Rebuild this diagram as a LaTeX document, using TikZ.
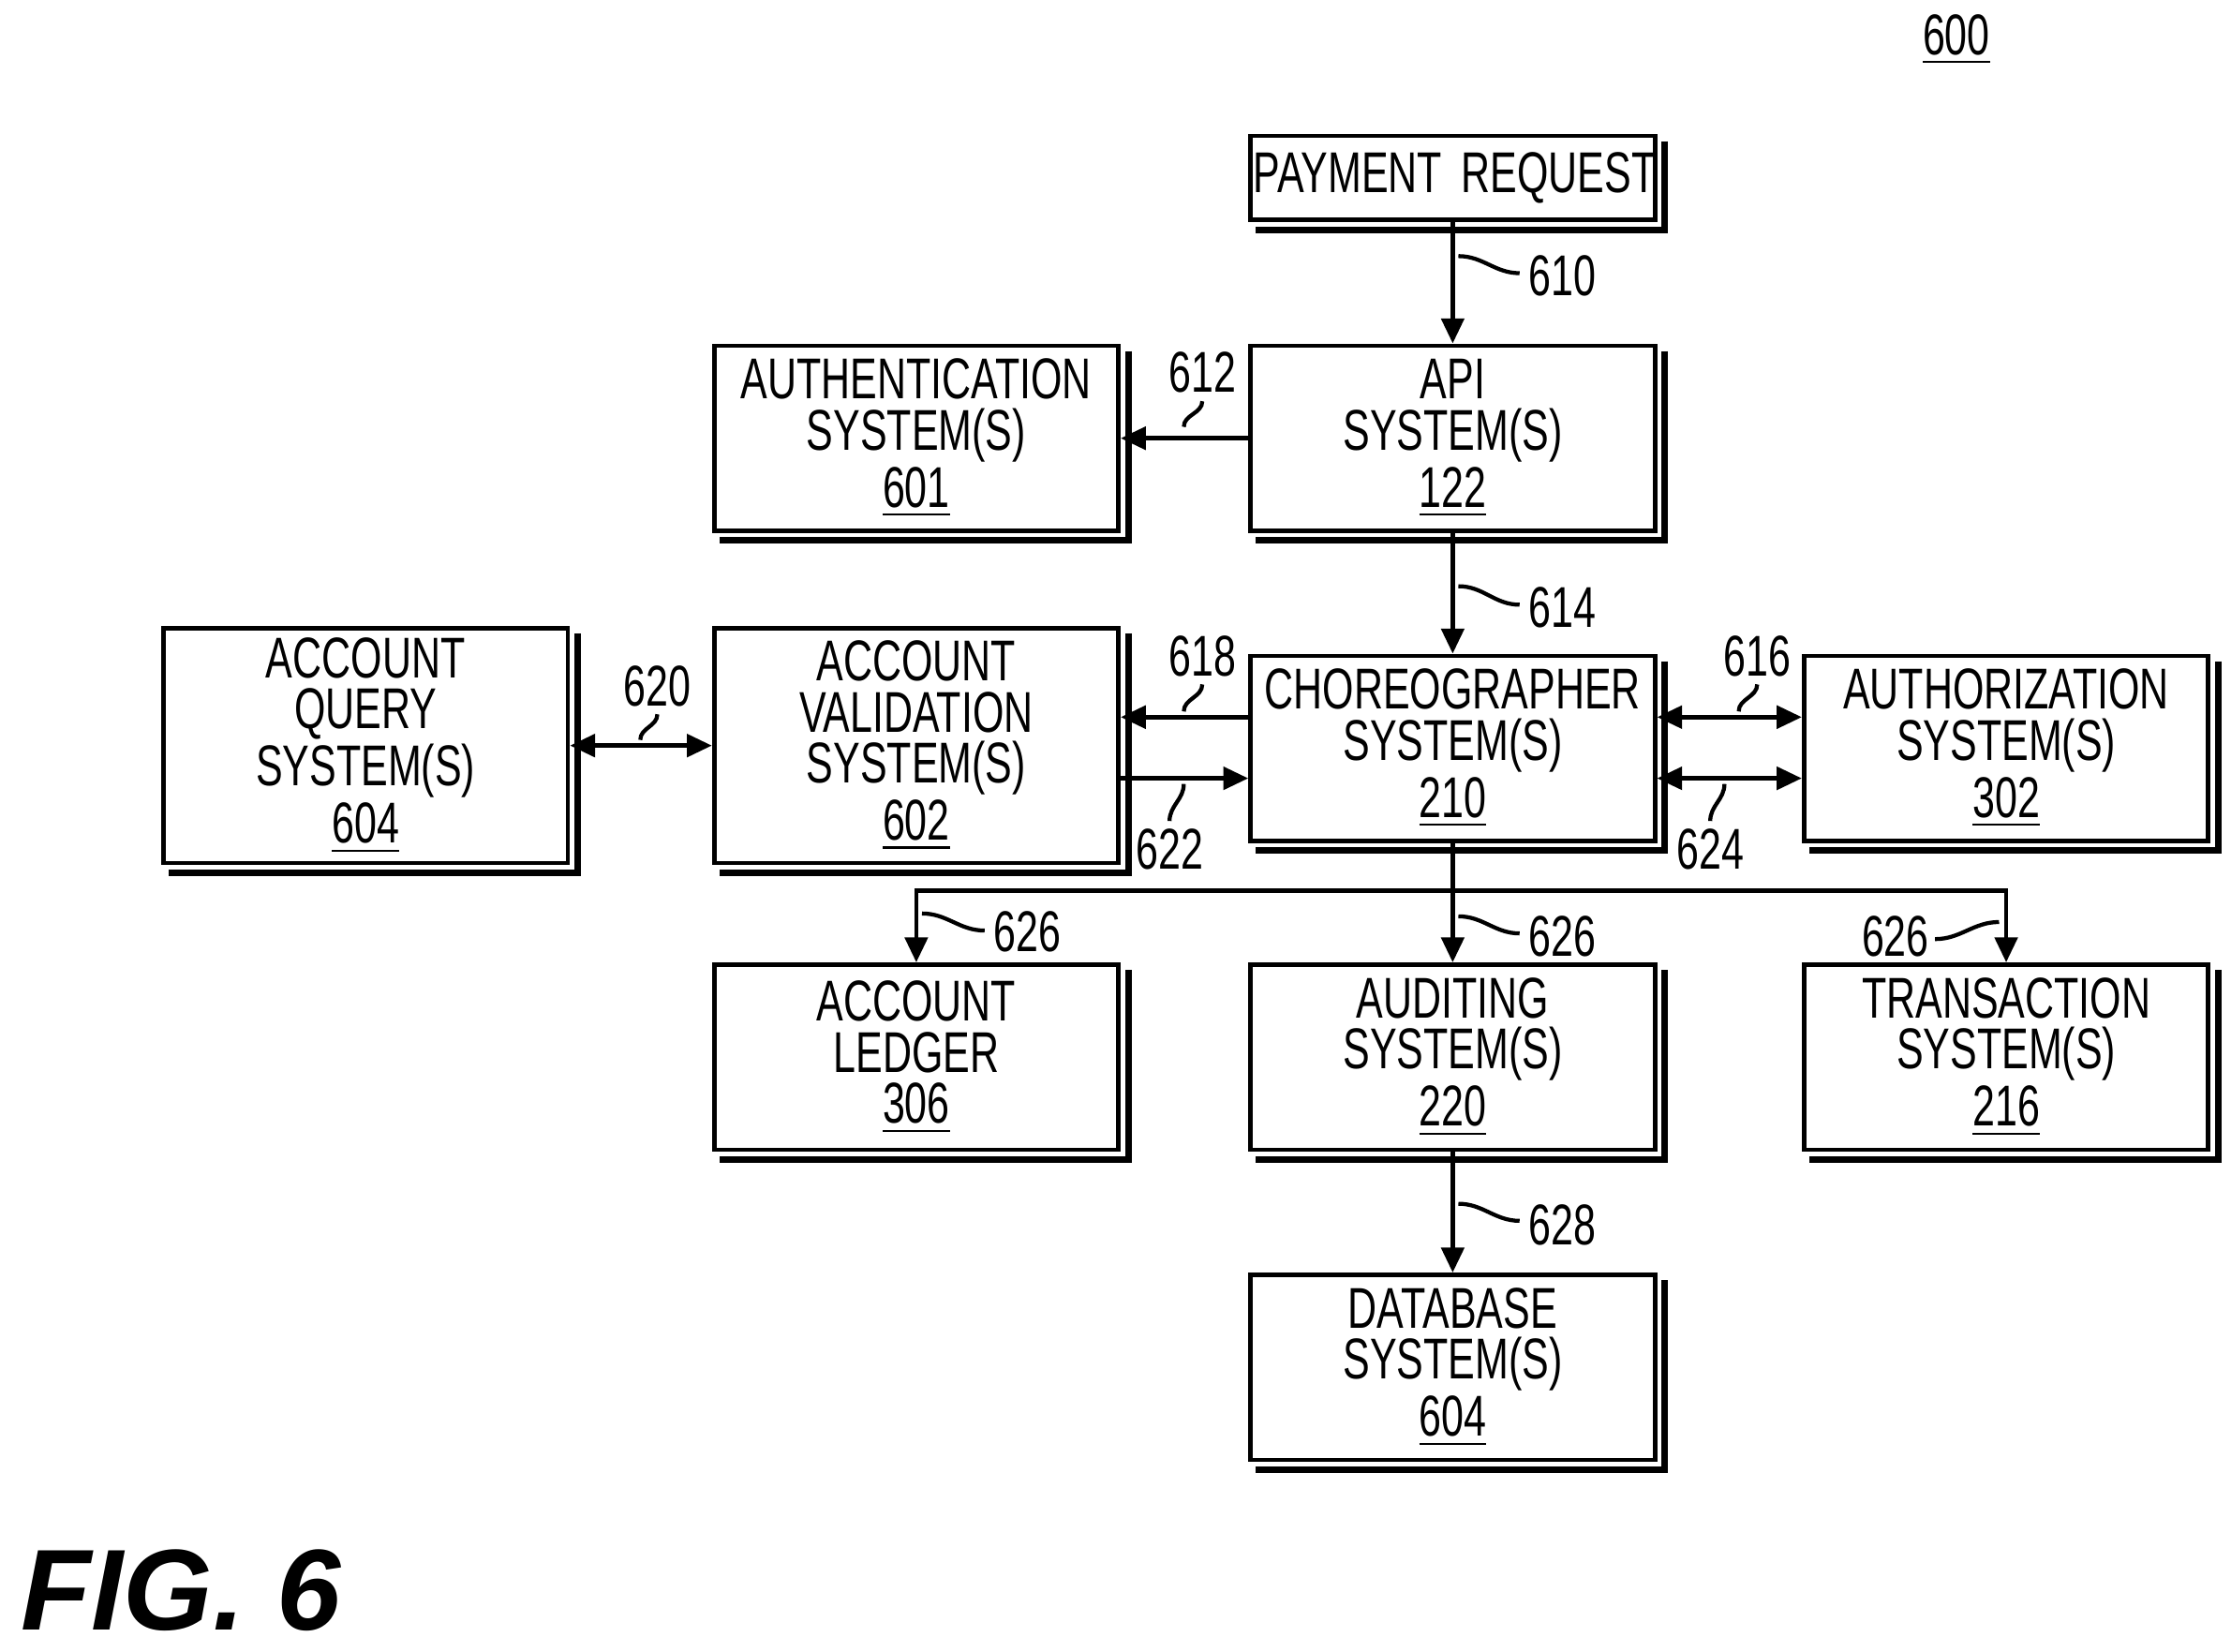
\documentclass[tikz,border=0pt]{standalone}
\usepackage{fontspec}
\setmainfont{Liberation Sans}[FakeStretch=0.7]
\newfontfamily\figfont{Liberation Sans}
\usetikzlibrary{arrows.meta}
\begin{document}
\begin{tikzpicture}[x=0.01cm,y=-0.01cm,
  box/.style={draw,line width=0.9pt,minimum width=2.84cm,minimum height=1.3cm,text width=2.8cm,align=center,inner sep=0pt,font=\fontsize{11.5}{10.2}\selectfont},
  arr/.style={line width=0.9pt,-{Triangle[length=5pt,width=4.5pt]}},
  darr/.style={line width=0.9pt,{Triangle[length=5pt,width=4.5pt]}-{Triangle[length=5pt,width=4.5pt]}},
  sq/.style={line width=0.8pt},
  lab/.style={font=\fontsize{11.5}{12}\selectfont,inner sep=1pt}]
\useasboundingbox (0,0) rectangle (1568,1161);
\newcommand{\shadowbox}[1]{\draw[line width=1.3pt] ([xshift=1.5pt,yshift=-1.5pt]#1.north east) -- ([xshift=1.5pt,yshift=-1.5pt]#1.south east) -- ([xshift=1.5pt,yshift=-1.5pt]#1.south west);}
\node[box,minimum height=0.59cm] (pay) at (1021,125) {\mbox{PAYMENT REQUEST}};
\node[box] (api) at (1021,308) {API\\SYSTEM(S)\\\underline{122}};
\node[box] (auth) at (644,308) {AUTHENTICATION\\SYSTEM(S)\\\underline{601}};
\node[box] (cho) at (1021,526) {CHOREOGRAPHER\\SYSTEM(S)\\\underline{210}};
\node[box,minimum height=1.65cm] (val) at (644,524) {ACCOUNT\\VALIDATION\\SYSTEM(S)\\\underline{602}};
\node[box,minimum height=1.65cm] (qry) at (257,524) {ACCOUNT\\QUERY\\SYSTEM(S)\\\underline{604}};
\node[box] (azn) at (1410,526) {AUTHORIZATION\\SYSTEM(S)\\\underline{302}};
\node[box] (led) at (644,743) {ACCOUNT\\LEDGER\\\underline{306}};
\node[box] (aud) at (1021,743) {AUDITING\\SYSTEM(S)\\\underline{220}};
\node[box] (trn) at (1410,743) {TRANSACTION\\SYSTEM(S)\\\underline{216}};
\node[box] (db) at (1021,961) {DATABASE\\SYSTEM(S)\\\underline{604}};
\foreach \n in {pay,api,auth,cho,val,qry,azn,led,aud,trn,db} {\shadowbox{\n}}
% arrows
\draw[arr] (pay) -- (api);
\draw[arr] (api) -- (cho);
\draw[arr] (aud) -- (db);
\draw[arr] (api.west) -- (auth.east);
\draw[arr] (cho.west|-0,504) -- (val.east|-0,504);
\draw[arr] (val.east|-0,547) -- (cho.west|-0,547);
\draw[darr] (cho.east|-0,504) -- (azn.west|-0,504);
\draw[darr] (cho.east|-0,547) -- (azn.west|-0,547);
\draw[darr] (qry.east|-0,524) -- (val.west|-0,524);
\coordinate (j) at (1021,626);
\draw[line width=0.9pt] (cho.south) -- (j);
\draw[arr] (j) -- (aud.north);
\draw[arr] (j) -| (led.north);
\draw[arr] (j) -| (trn.north);
% squiggles and labels
\draw[sq] (1025,180) to[out=0,in=180] (1068,192); \node[lab,anchor=west] (l610) at (1070,194) {610};
\draw[sq] (1025,412) to[out=0,in=180] (1068,425); \node[lab,anchor=west] (l614) at (1070,427) {614};
\draw[sq] (1025,846) to[out=0,in=180] (1068,858); \node[lab,anchor=west] (l628) at (1070,861) {628};
\draw[sq] (1025,644) to[out=0,in=180] (1068,656); \node[lab,anchor=west] (l626b) at (1070,658) {626};
\draw[sq] (648,642) to[out=0,in=180] (692,654); \node[lab,anchor=west] (l626a) at (694,655) {626};
\draw[sq] (1360,660) to[out=0,in=180] (1405,648); \node[lab,anchor=east] (l626c) at (1360,658) {626};
\node[lab] (l612) at (845,262) {612}; \draw[sq] (845,282) to[out=-90,in=90] (832,300);
\node[lab] (l618) at (845,461) {618}; \draw[sq] (845,481) to[out=-90,in=90] (832,500);
\node[lab] (l622) at (822,597) {622}; \draw[sq] (822,577) to[out=90,in=-90] (832,551);
\node[lab] (l616) at (1235,461) {616}; \draw[sq] (1235,481) to[out=-90,in=90] (1222,500);
\node[lab] (l624) at (1202,597) {624}; \draw[sq] (1202,577) to[out=90,in=-90] (1212,551);
\node[lab] (l620) at (462,482) {620}; \draw[sq] (462,502) to[out=-90,in=90] (450,520);
\node[lab] (l600) at (1375,28) {\underline{600}};
\node[font=\figfont\fontsize{23}{23}\bfseries\itshape\selectfont,anchor=west,inner sep=0pt] (fig) at (14,1118) {FIG. 6};
\end{tikzpicture}
\end{document}
